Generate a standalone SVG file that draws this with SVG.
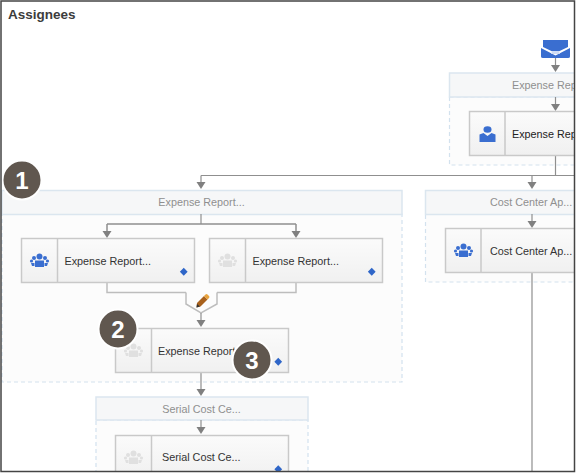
<svg xmlns="http://www.w3.org/2000/svg" width="576" height="474" viewBox="0 0 576 474">
<style>
text{font-family:"Liberation Sans",Arial,sans-serif}
.hd{fill:#f6f7f8;stroke:#dbe6ef;stroke-width:1.5}
.bd{fill:#fcfcfc;stroke:#d3e2ee;stroke-width:1.2;stroke-dasharray:4 3}
.nb{fill:url(#g);stroke:#c9c9c9;stroke-width:1.500}
.dv{stroke:#c9c9c9;stroke-width:1.500;fill:none}
.hl{font-size:10.800px;fill:#8f8f8f;text-anchor:middle}
.nl{font-size:10.800px;fill:#333}
.c{fill:none;stroke:#8f8f8f;stroke-width:1.200}
.cl{fill:none;stroke:#bdbdbd;stroke-width:1.500}
.a{fill:#808080}
.dot{fill:#2f66c8}
.ic{fill:#3a6ed0}
.gi{fill:#e0e0e0}
.bc{fill:#60574f;stroke:#fff;stroke-width:2}
.bt{font-size:24px;font-weight:bold;fill:#fff;text-anchor:middle}
</style>
<defs>
<linearGradient id="g" x1="0" y1="0" x2="0" y2="1"><stop offset="0" stop-color="#fbfbfb"/><stop offset="1" stop-color="#f0f0f0"/></linearGradient>
<path id="ah" class="a" d="M-4.500 -7H4.500L0 0Z"/>
<g id="grp"><circle cx="0" cy="-4.500" r="3"/><circle cx="-5.500" cy="-3" r="2"/><circle cx="5.500" cy="-3" r="2"/><circle cx="-8" cy="0" r="1.600"/><circle cx="8" cy="0" r="1.600"/><path d="M-8.500 2H-5V5H-7.500ZM8.500 2H5V5H7.500ZM-4.500 -0.500H4.500V6H-4.500Z"/></g>
</defs>
<rect width="576" height="474" fill="#fff"/>
<g id="stage-top"><rect class="bd" x="449.500" y="97" width="130" height="68"/><rect class="hd" x="449.500" y="73" width="130" height="24"/><text class="hl" x="512" y="89" style="text-anchor:start">Expense Rep</text></g>
<g id="stage-left"><rect class="bd" x="2" y="214" width="400" height="168"/><rect class="hd" x="2" y="190.500" width="400" height="24"/><text class="hl" x="201.500" y="206">Expense Report...</text></g>
<g id="stage-cost"><rect class="bd" x="425.500" y="214" width="155" height="68"/><rect class="hd" x="425.500" y="190.500" width="155" height="24"/><text class="hl" x="490" y="206" style="text-anchor:start">Cost Center Ap...</text></g>
<g id="stage-serial"><rect class="bd" x="96" y="420" width="212" height="60"/><rect class="hd" x="96" y="397" width="212" height="23"/><text class="hl" x="201.500" y="413">Serial Cost Ce...</text></g>
<g id="connectors">
<path class="c" d="M555.500 58V66M555.500 97V105M555.500 155V175M201 175.500H576M201 175.500V182M532 175.500V182M532 214V222M532 272V472M201 214V224"/>
<path d="M107 224H296M107 224V232M296 224V232" fill="none" stroke="#8f8f8f" stroke-width="1.500"/>
<path class="cl" d="M107 282V292.500H186M296 282V292.500H217M186 292.500V304L201 313L217 304V292.500"/>
<path class="c" d="M201 313V321M201 372V389M201 420V427"/>
<use href="#ah" x="555.500" y="72"/><use href="#ah" x="555.500" y="111"/><use href="#ah" x="201" y="189"/><use href="#ah" x="532" y="189"/><use href="#ah" x="532" y="228"/><use href="#ah" x="107" y="238"/><use href="#ah" x="296" y="238"/><use href="#ah" x="201" y="327"/><use href="#ah" x="201" y="396"/><use href="#ah" x="201" y="434"/>
</g>
<g id="mail-start"><path class="ic" d="M543 40H568V47L555.500 53L543 47ZM541 48L555.500 55.500L570 48V56.500Q570 58 568 58H543Q541 58 541 56.500Z"/><path d="M552 51H559L560 54H551Z" fill="#cfdcf5"/></g>
<g id="node-top"><rect class="nb" x="469.500" y="111.500" width="110" height="44"/><path class="dv" d="M505 111.500V155.500"/><ellipse class="ic" cx="487.500" cy="129.500" rx="4" ry="3.200"/><path class="ic" d="M479.500 134.500L483.500 133L487.500 136L491.500 133L495.500 134.500V142H479.500Z"/><text class="nl" x="512" y="138" style="fill:#222">Expense Rep</text></g>
<g id="node-a"><rect class="nb" x="21.500" y="238.500" width="173" height="44"/><path class="dv" d="M57.500 238.500V282.500"/><use href="#grp" class="ic" x="39.500" y="261"/><text class="nl" x="64.500" y="264.500">Expense Report...</text><rect class="dot" x="181" y="269" width="5.500" height="5.500" transform="rotate(45 183.750 271.750)"/></g>
<g id="node-b"><rect class="nb" x="209.500" y="238.500" width="173" height="44"/><path class="dv" d="M245.500 238.500V282.500"/><use href="#grp" class="gi" x="227.500" y="261"/><text class="nl" x="252.500" y="264.500">Expense Report...</text><rect class="dot" x="369" y="269" width="5.500" height="5.500" transform="rotate(45 371.750 271.750)"/></g>
<g id="node-cost"><rect class="nb" x="445.500" y="228.500" width="140" height="44"/><path class="dv" d="M481 228.500V272.500"/><use href="#grp" class="ic" x="463.500" y="251"/><text class="nl" x="490" y="254.500">Cost Center Ap...</text></g>
<g id="edit-gate"><path d="M197 303L204 296L207.500 299.500L200.500 306.500L196.500 307.500Z" fill="#a8611c"/><path d="M204 296L205.500 294.500Q206.500 293.500 207.500 294.500L209 296Q210 297 209 298L207.500 299.500Z" fill="#e8a33d"/><path d="M197 304L196.500 307.500L200 306.500Z" fill="#333"/></g>
<g id="node-c"><rect class="nb" x="115.500" y="328.500" width="173" height="44"/><path class="dv" d="M151.500 328.500V372.500"/><use href="#grp" class="gi" x="133.500" y="351"/><text class="nl" x="158" y="354.500">Expense Report...</text><rect class="dot" x="275.500" y="359" width="5.500" height="5.500" transform="rotate(45 278.250 361.750)"/></g>
<g id="node-d"><rect class="nb" x="115.500" y="435.500" width="173" height="44"/><path class="dv" d="M151.500 435.500V479"/><use href="#grp" class="gi" x="133.500" y="458"/><text class="nl" x="162" y="461">Serial Cost Ce...</text><rect class="dot" x="275.500" y="466.500" width="5.500" height="5.500" transform="rotate(45 278.250 469.250)"/></g>
<g id="title"><text x="8" y="18.500" font-size="13.500" font-weight="bold" fill="#3c3c3c">Assignees</text></g>
<g id="badge-1"><circle class="bc" cx="22" cy="180" r="19.500"/><text class="bt" x="22" y="188.500">1</text></g>
<g id="badge-2"><circle class="bc" cx="118" cy="329" r="19.500"/><text class="bt" x="118" y="337.500">2</text></g>
<g id="badge-3"><circle class="bc" cx="252" cy="360" r="19.500"/><text class="bt" x="252" y="368.500">3</text></g>
<g id="frame"><rect y="472" width="576" height="2" fill="#fff"/><rect x="575" width="1" height="474" fill="#fff"/><rect x="1" y="1" width="573.500" height="470.500" fill="none" stroke="#444" stroke-width="1.500"/></g>
</svg>
